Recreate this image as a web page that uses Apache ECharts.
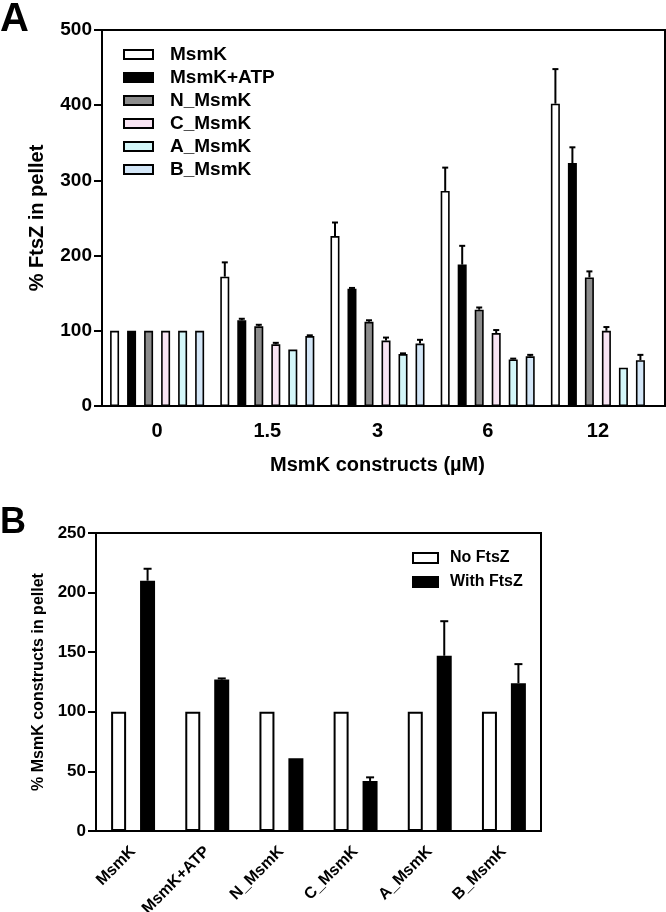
<!DOCTYPE html>
<html>
<head>
<meta charset="utf-8">
<script src="https://cdn.jsdelivr.net/npm/echarts@6/dist/echarts.min.js"></script>
<style>
  html, body { margin: 0; padding: 0; background: #fff; }
  #chart { width: 666px; height: 912px; }
</style>
</head>
<body>
<div id="chart"></div>
<script>
// Panel A: % FtsZ in pellet vs MsmK construct concentration
var catsA = ['0', '1.5', '3', '6', '12'];
var namesA = ['MsmK', 'MsmK+ATP', 'N_MsmK', 'C_MsmK', 'A_MsmK', 'B_MsmK'];
var msmk = [100, 172, 226, 286, 402];
var msmkSD = [0, 19, 18, 31, 46];
var msmkAtp = [100, 114, 156, 188, 323];
var msmkAtpSD = [0, 2, 1, 25, 21];
var nMsmk = [100, 106, 112, 128, 171];
var nMsmkSD = [0, 2, 2, 3, 8];
var cMsmk = [100, 82, 87, 97, 100];
var cMsmkSD = [0, 2, 4, 4, 5];
var aMsmk = [100, 75, 69, 62, 51];
var aMsmkSD = [0, 0, 1, 1, 0];
var bMsmk = [100, 93, 83, 66, 61];
var bMsmkSD = [0, 1, 5, 2, 7];
var ticksA = [0, 100, 200, 300, 400, 500];

// Panel B: % MsmK constructs in pellet
var catsB = ['MsmK', 'MsmK+ATP', 'N_MsmK', 'C_MsmK', 'A_MsmK', 'B_MsmK'];
var noFtsZ = [100, 100, 100, 100, 100, 100];
var withFtsZ = [210, 127, 61, 42, 147, 124];
var withFtsZSD = [10, 1, 0, 3, 29, 16];
var ticksB = [0, 50, 100, 150, 200, 250];

var FONT = 'Liberation Sans, Arial, sans-serif';
var colorsA = ['#ffffff', '#000000', '#8c8c8c', '#f8e4f3', '#d3f6f8', '#d3e6f7'];
var valuesA = [msmk, msmkAtp, nMsmk, cMsmk, aMsmk, bMsmk];
var sdA = [msmkSD, msmkAtpSD, nMsmkSD, cMsmkSD, aMsmkSD, bMsmkSD];

function errBar(offset, capHalf) {
  return function (params, api) {
    var c = api.value(0), m = api.value(1), u = api.value(2);
    if (u <= m) return { type: 'group', children: [] };
    var p0 = api.coord([c, m]);
    var p1 = api.coord([c, u]);
    var x = p0[0] + offset;
    return {
      type: 'group',
      children: [
        { type: 'line', shape: { x1: x, y1: p0[1], x2: x, y2: p1[1] }, style: { stroke: '#000', lineWidth: 2 } },
        { type: 'line', shape: { x1: x - capHalf, y1: p1[1], x2: x + capHalf, y2: p1[1] }, style: { stroke: '#000', lineWidth: 2 } }
      ]
    };
  };
}

var series = [];
namesA.forEach(function (name, i) {
  series.push({
    name: name,
    type: 'bar',
    xAxisIndex: 0, yAxisIndex: 0,
    barWidth: 9,
    barGap: '89%',
    itemStyle: { color: colorsA[i], borderColor: '#000', borderWidth: 1.6 },
    data: valuesA[i],
    z: 2
  });
});
namesA.forEach(function (name, i) {
  series.push({
    type: 'custom',
    xAxisIndex: 0, yAxisIndex: 0,
    renderItem: errBar(-42.5 + 17 * i, 3),
    data: valuesA[i].map(function (v, j) { return [j, v, v + sdA[i][j]]; }),
    z: 3,
    silent: true
  });
});

series.push({
  name: 'No FtsZ', type: 'bar', xAxisIndex: 1, yAxisIndex: 1,
  barWidth: 15, barGap: '93%',
  itemStyle: { color: '#fff', borderColor: '#000', borderWidth: 2 },
  data: noFtsZ
});
series.push({
  name: 'With FtsZ', type: 'bar', xAxisIndex: 1, yAxisIndex: 1,
  barWidth: 15, barGap: '93%',
  itemStyle: { color: '#000', borderColor: '#000', borderWidth: 2 },
  data: withFtsZ
});
series.push({
  type: 'custom', xAxisIndex: 1, yAxisIndex: 1,
  renderItem: errBar(14.5, 4),
  data: withFtsZ.map(function (v, j) { return [j, v, v + withFtsZSD[j]]; }),
  z: 3,
  silent: true
});

function bold(size) {
  return { color: '#000', fontFamily: FONT, fontWeight: 'bold', fontSize: size };
}
var lineStyle = { color: '#000', width: 2 };

var chart = echarts.init(document.getElementById('chart'), null, { renderer: 'canvas' });
chart.setOption({
  animation: false,
  backgroundColor: '#fff',
  grid: [
    { left: 102, top: 30, width: 551, height: 376, outerBoundsMode: 'none', containLabel: false },
    { left: 96, top: 533, width: 445, height: 298, outerBoundsMode: 'none', containLabel: false,
      show: true, borderColor: '#000', borderWidth: 2, backgroundColor: 'transparent' }
  ],
  xAxis: [
    {
      type: 'category', gridIndex: 0, data: catsA,
      axisLine: { lineStyle: lineStyle },
      axisTick: { alignWithLabel: true, length: 8, lineStyle: lineStyle },
      axisLabel: Object.assign({ margin: 15 }, bold(20)),
      name: 'MsmK constructs (\u00b5M)', nameLocation: 'middle', nameGap: 49,
      nameTextStyle: bold(20)
    },
    {
      type: 'category', gridIndex: 1, data: catsB,
      axisLine: { lineStyle: lineStyle },
      axisTick: { alignWithLabel: true, length: 7, lineStyle: lineStyle },
      axisLabel: Object.assign({ rotate: 45, margin: 18 }, bold(16))
    }
  ],
  yAxis: [
    {
      type: 'value', gridIndex: 0, min: ticksA[0], max: ticksA[ticksA.length - 1], interval: 100,
      axisLine: { show: true, lineStyle: lineStyle },
      axisTick: { show: true, length: 8, lineStyle: lineStyle },
      splitLine: { show: false },
      axisLabel: Object.assign({ margin: 10 }, bold(19)),
      name: '% FtsZ in pellet', nameLocation: 'middle', nameGap: 55,
      nameTextStyle: bold(20)
    },
    {
      type: 'value', gridIndex: 1, min: ticksB[0], max: ticksB[ticksB.length - 1], interval: 50,
      axisLine: { show: true, lineStyle: lineStyle },
      axisTick: { show: true, length: 8, lineStyle: lineStyle },
      splitLine: { show: false },
      axisLabel: Object.assign({ margin: 10 }, bold(17)),
      name: '% MsmK constructs in pellet', nameLocation: 'middle', nameGap: 44,
      nameTextStyle: bold(16)
    }
  ],
  legend: [
    {
      data: namesA, orient: 'vertical', left: 118, top: 40,
      icon: 'rect', itemWidth: 29, itemHeight: 9, itemGap: 4,
      itemStyle: { borderColor: '#000', borderWidth: 2 },
      textStyle: Object.assign({ lineHeight: 19, padding: [0, 0, 0, 12] }, bold(19)),
      selectedMode: false
    },
    {
      data: ['No FtsZ', 'With FtsZ'], orient: 'vertical', left: 407, top: 545,
      icon: 'rect', itemWidth: 25, itemHeight: 10, itemGap: 8,
      itemStyle: { borderColor: '#000', borderWidth: 2 },
      textStyle: Object.assign({ lineHeight: 16, padding: [0, 0, 0, 7] }, bold(16)),
      selectedMode: false
    }
  ],
  graphic: [
    { type: 'polyline', shape: { points: [[102, 30], [665, 30], [665, 406], [652, 406]] }, style: { stroke: '#000', lineWidth: 2, fill: null } },
    { type: 'text', left: 0, top: 0, style: { text: 'A', font: 'bold 40px ' + FONT, fill: '#000' } },
    { type: 'text', left: 0, top: 505, style: { text: 'B', font: 'bold 36px ' + FONT, fill: '#000' } }
  ],
  series: series
});
</script>
</body>
</html>
